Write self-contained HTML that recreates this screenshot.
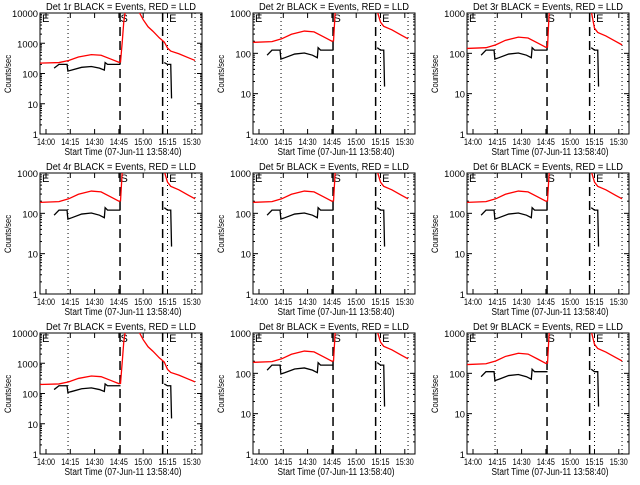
<!DOCTYPE html>
<html><head><meta charset="utf-8"><style>
body{margin:0;background:#fff;width:640px;height:480px;overflow:hidden}
text{font-family:"Liberation Sans",sans-serif;fill:#000}
</style></head><body>
<svg id="c" width="640" height="480" xmlns="http://www.w3.org/2000/svg"></svg>
<script>
const detNames=["1r","2r","3r","4r","5r","6r","7r","8r","9r"];
const topDecade=[4,3,3,3,3,3,4,3,3];
const panelScale=[1,0.85,0.6,0.85,0.85,0.85,0.9,0.85,0.75];
const blackScale=[1,0.6,0.6,0.6,0.6,0.6,0.9,0.8,0.55];
const redT=[-4,8,14,20,28,34,40,45,46,47,48,49,57,60,63,66,70,73,75,77,82,88,92];
const redV=[220,230,270,350,420,400,300,235,240,1000,5000,12000,12000,6000,3500,2500,1500,1100,700,550,450,330,270];
const blkT=[5,8,13,13.5,16,22,28,33,36,36.5,38,46];
const blkV=[150,200,200,120,130,160,170,150,130,230,200,200];
const blk2T=[73,75,77,77.5];
const blk2V=[230,200,200,15];
const tickT=[0,15,30,45,60,75,90];
const tickL=["14:00","14:15","14:30","14:45","15:00","15:15","15:30"];
const dotted=[13.6,75,92];
const dashed=[45.7,72];
const NS="http://www.w3.org/2000/svg";
const svg=document.getElementById('c');
function mk(tag,attrs,parent){const e=document.createElementNS(NS,tag);for(const k in attrs)e.setAttribute(k,attrs[k]);(parent||svg).appendChild(e);return e;}
for(let p=0;p<9;p++){
  const ox=Math.round((p%3)*213.3), oy=Math.floor(p/3)*160;
  const L=ox+40,R=ox+202,T=oy+13,B=oy+134;
  const nd=topDecade[p];
  const xs=t=>ox+46+t*1.62;
  const ys=v=>B-(Math.log10(v)/nd)*(B-T);
  const g=mk('g',{});
  
  
  const cp=mk('clipPath',{id:'cp'+p},g);mk('rect',{x:L,y:T,width:R-L,height:B-T},cp);
  const title=mk('text',{x:(L+R)/2,y:oy+10,'text-anchor':'middle','font-size':'10',textLength:150,lengthAdjust:'spacingAndGlyphs'},g);
  title.textContent='Det '+detNames[p]+' BLACK = Events, RED = LLD';
  
  
  const box=mk('rect',{x:L,y:T,width:R-L,height:B-T,fill:'none',stroke:'#000','stroke-width':1},g);
  
  
  for(let d=0;d<=nd;d++){
    const y=ys(Math.pow(10,d));
    mk('line',{x1:L,x2:L+5,y1:y,y2:y,stroke:'#000'},g);
    mk('line',{x1:R-5,x2:R,y1:y,y2:y,stroke:'#000'},g);
    for(let m=2;m<10&&d<nd;m++){const y2=ys(m*Math.pow(10,d));
      mk('line',{x1:L,x2:L+2,y1:y2,y2:y2,stroke:'#000'},g);mk('line',{x1:R-2,x2:R,y1:y2,y2:y2,stroke:'#000'},g);}
    const s=String(Math.pow(10,d));
    const tl=mk('text',{x:L-2,y:y+4,'text-anchor':'end','font-size':'9',textLength:s.length*5.2,lengthAdjust:'spacingAndGlyphs'},g);
    tl.textContent=s;
    
    
  }
  tickT.forEach((t,i)=>{const x=xs(t);
    mk('line',{x1:x,x2:x,y1:B,y2:B-5,stroke:'#000'},g);mk('line',{x1:x,x2:x,y1:T,y2:T+5,stroke:'#000'},g);
    const tl=mk('text',{x:x,y:B+11,'text-anchor':'middle','font-size':'9',textLength:18,lengthAdjust:'spacingAndGlyphs'},g);
    tl.textContent=tickL[i];
    
    });
  const xt=mk('text',{x:(L+R)/2+2,y:B+21,'text-anchor':'middle','font-size':'10',textLength:117,lengthAdjust:'spacingAndGlyphs'},g);
  xt.textContent='Start Time (07-Jun-11 13:58:40)';
  
  
  const yt=mk('text',{x:0,y:0,'text-anchor':'middle','font-size':'9',textLength:38,lengthAdjust:'spacingAndGlyphs',transform:`translate(${ox+11},${oy+74}) rotate(-90)`},g);
  yt.textContent='Counts/sec';
  
  
  dotted.forEach(t=>{const l=mk('line',{x1:xs(t),x2:xs(t),y1:T,y2:B,stroke:'#000','stroke-dasharray':'1,3'},g);
    
    });
  dashed.forEach(t=>{const l=mk('line',{x1:xs(t),x2:xs(t),y1:T,y2:B,stroke:'#000','stroke-width':1.5,'stroke-dasharray':'9,5'},g);
    
    });
  [['E',L+2],['S',xs(46)],['E',xs(76)]].forEach(([c,x])=>{const s=mk('text',{x:x,y:T+9,'font-size':'11'},g);s.textContent=c;
    
    });
  const cg=mk('g',{'clip-path':`url(#cp${p})`},g);
  const rs=panelScale[p], bs=blackScale[p];
  const red=mk('polyline',{points:redT.map((t,i)=>xs(t)+','+ys(redV[i]*(redV[i]>=1000?1:rs))).join(' '),fill:'none',stroke:'#f00','stroke-width':1.3},cg);
  
  
  const b1=mk('polyline',{points:blkT.map((t,i)=>xs(t)+','+ys(blkV[i]*bs)).join(' '),fill:'none',stroke:'#000','stroke-width':1.3},cg);
  
  
  const b2=mk('polyline',{points:blk2T.map((t,i)=>xs(t)+','+ys(blk2V[i]*(i<3?bs:1))).join(' '),fill:'none',stroke:'#000','stroke-width':1.3},cg);
  
  
}
</script>
</body></html>
